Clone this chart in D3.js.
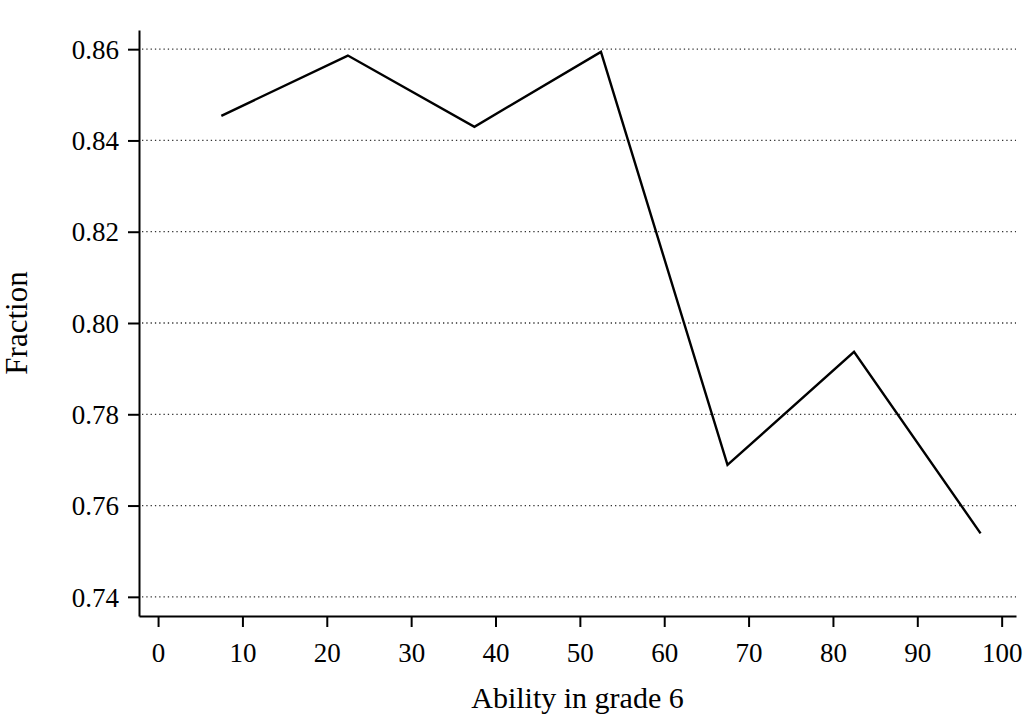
<!DOCTYPE html>
<html>
<head>
<meta charset="utf-8">
<script src="https://cdn.jsdelivr.net/npm/d3@7"></script>
<style>
html, body { margin: 0; padding: 0; background: #fff; }
svg { display: block; }
text { font-family: "Liberation Serif", "Times New Roman", serif; fill: #000; }
</style>
</head>
<body>
<svg id="chart" width="1023" height="718"></svg>
<script>
const xValues = [7.5, 22.5, 37.5, 52.5, 67.5, 82.5, 97.5];
const fractionValues = [0.8454, 0.8586, 0.8430, 0.8594, 0.7689, 0.7937, 0.7539];
const xTicks = [0, 10, 20, 30, 40, 50, 60, 70, 80, 90, 100];
const yTicks = [0.74, 0.76, 0.78, 0.80, 0.82, 0.84, 0.86];
const xTitle = "Ability in grade 6";
const yTitle = "Fraction";

(function () {
const svg = d3.select("#chart");
const mLeft = 139, mRight = 1016, mTop = 30, mBottom = 616;

const x = d3.scaleLinear().domain([-2.26, 101.7]).range([mLeft, mRight]);
const y = d3.scaleLinear().domain([0.7358, 0.8642]).range([mBottom, mTop]);

// gridlines
svg.append("g").selectAll("line").data(yTicks).join("line")
  .attr("x1", mLeft + 3).attr("x2", mRight)
  .attr("y1", d => y(d)).attr("y2", d => y(d))
  .attr("stroke", "#333").attr("stroke-width", 1.3)
  .attr("stroke-dasharray", "1.3,3");

// x axis
const xAxis = svg.append("g").attr("transform", `translate(0,${mBottom})`)
  .call(d3.axisBottom(x).tickValues(xTicks).tickSize(11).tickSizeOuter(0).tickFormat(d3.format("d")));
xAxis.select(".domain").attr("stroke-width", 2);
xAxis.selectAll(".tick line").attr("stroke-width", 2);
xAxis.selectAll(".tick text").attr("y", 46).attr("dy", 0)
  .style("font-size", "27px").style("font-family", "Liberation Serif, serif");

// y axis
const yAxis = svg.append("g").attr("transform", `translate(${mLeft},0)`)
  .call(d3.axisLeft(y).tickValues(yTicks).tickSize(11).tickSizeOuter(0).tickFormat(d3.format(".2f")));
yAxis.select(".domain").attr("stroke-width", 2);
yAxis.selectAll(".tick line").attr("stroke-width", 2);
yAxis.selectAll(".tick text").attr("x", -20).attr("dy", "0.34em")
  .style("font-size", "27px").style("font-family", "Liberation Serif, serif");

// line
const pts = xValues.map((v, i) => [v, fractionValues[i]]);
svg.append("path").datum(pts)
  .attr("fill", "none").attr("stroke", "#000").attr("stroke-width", 2.4)
  .attr("stroke-linejoin", "miter")
  .attr("d", d3.line().x(d => x(d[0])).y(d => y(d[1])));

// titles
svg.append("text").attr("x", (mLeft + mRight) / 2).attr("y", 708)
  .attr("text-anchor", "middle").style("font-size", "30px").text(xTitle);
svg.append("text").attr("transform", `translate(27,${(mTop + mBottom) / 2}) rotate(-90)`)
  .attr("text-anchor", "middle").style("font-size", "31px").text(yTitle);
})();
</script>
</body>
</html>
